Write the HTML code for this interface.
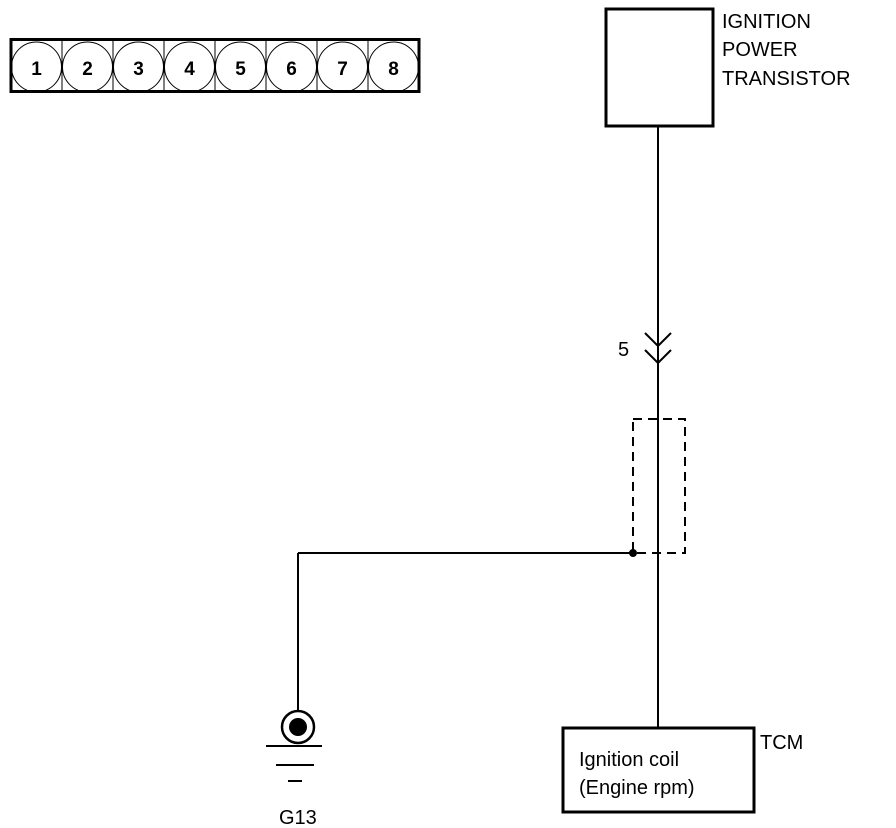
<!DOCTYPE html>
<html><head><meta charset="utf-8"><style>
body{margin:0;background:#fff;width:896px;height:828px;overflow:hidden}
svg{display:block}
text{font-family:"Liberation Sans",Arial,sans-serif;fill:#000}
</style></head><body>
<svg width="896" height="828" viewBox="0 0 896 828">
<rect x="11" y="39.5" width="408" height="52" fill="none" stroke="#000" stroke-width="3"/>
<g stroke="#000" stroke-width="1" fill="none">
<line x1="62" y1="40" x2="62" y2="91"/><line x1="113" y1="40" x2="113" y2="91"/><line x1="164" y1="40" x2="164" y2="91"/><line x1="215" y1="40" x2="215" y2="91"/><line x1="266" y1="40" x2="266" y2="91"/><line x1="317" y1="40" x2="317" y2="91"/><line x1="368" y1="40" x2="368" y2="91"/>
<circle cx="36.5" cy="67" r="25"/><circle cx="87.5" cy="67" r="25"/><circle cx="138.5" cy="67" r="25"/><circle cx="189.5" cy="67" r="25"/><circle cx="240.5" cy="67" r="25"/><circle cx="291.5" cy="67" r="25"/><circle cx="342.5" cy="67" r="25"/><circle cx="393.5" cy="67" r="25"/>
</g>
<g font-size="19" font-weight="bold" text-anchor="middle">
<text x="36.5" y="75">1</text><text x="87.5" y="75">2</text><text x="138.5" y="75">3</text><text x="189.5" y="75">4</text><text x="240.5" y="75">5</text><text x="291.5" y="75">6</text><text x="342.5" y="75">7</text><text x="393.5" y="75">8</text>
</g>
<rect x="606" y="9" width="107" height="117" fill="none" stroke="#000" stroke-width="3"/>
<g font-size="20"><text x="722" y="28">IGNITION</text><text x="722" y="56">POWER</text><text x="722" y="85">TRANSISTOR</text></g>
<g stroke="#000" stroke-width="2" fill="none">
<line x1="658" y1="126" x2="658" y2="727"/>
<polyline points="645,333 658,346 671,333"/>
<polyline points="645,350 658,363 671,350"/>
<line x1="298" y1="553" x2="633" y2="553"/>
<line x1="298" y1="553" x2="298" y2="711"/>
<rect x="633" y="419" width="52" height="134" stroke-dasharray="9,6"/>
<circle cx="298" cy="727" r="16" stroke-width="2.5"/>
<line x1="266" y1="746" x2="322" y2="746"/>
<line x1="276" y1="765" x2="314" y2="765"/>
<line x1="288" y1="781" x2="302" y2="781"/>
<rect x="563" y="728" width="191" height="84" stroke-width="3"/>
</g>
<circle cx="633" cy="553" r="4" fill="#000"/>
<circle cx="298" cy="727" r="9" fill="#000"/>
<text x="618" y="356" font-size="20">5</text>
<text x="279" y="824" font-size="20">G13</text>
<text x="760" y="749" font-size="20">TCM</text>
<g font-size="20"><text x="579" y="766">Ignition coil</text><text x="579" y="794">(Engine rpm)</text></g>
</svg>
</body></html>
